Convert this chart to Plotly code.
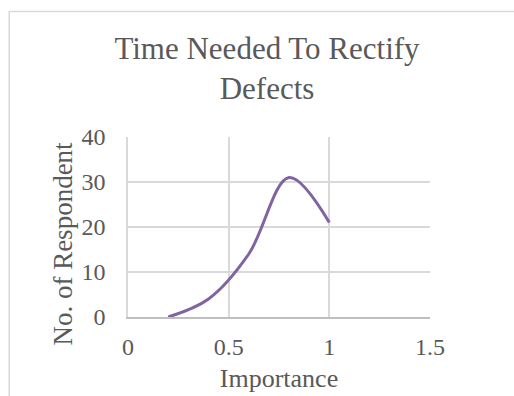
import plotly.graph_objects as go

importance = [0.2, 0.4, 0.6, 0.8, 1.0]
respondents = [0, 4, 14, 31, 21]
x_ticks = [0, 0.5, 1, 1.5]
x_tick_labels = ["0", "0.5", "1", "1.5"]
y_ticks = [0, 10, 20, 30, 40]

title_text = "Time Needed To Rectify<br>Defects"
x_title = "Importance"
y_title = "No. of Respondent"

W, H = 514, 396
L, R, T, B = 127.5, 430, 137, 317

def px(x):
    return (x - L) / (R - L)

def py(y):
    return (B - y) / (B - T)

fig = go.Figure()
fig.add_trace(go.Scatter(
    x=importance, y=respondents, mode="lines",
    line=dict(color="#8064A2", width=3, shape="spline", smoothing=1),
    hoverinfo="skip", showlegend=False,
))

font_family = "Liberation Serif, Times New Roman, serif"
txt_color = "#595959"

fig.update_layout(
    width=W, height=H,
    margin=dict(l=L, r=W - R, t=T, b=H - B, pad=0, autoexpand=False),
    paper_bgcolor="white", plot_bgcolor="white",
    font=dict(family=font_family, color=txt_color, size=24),
    title=dict(text=title_text, x=267 / W, xanchor="center",
               y=1 - 59 / H, yanchor="middle",
               font=dict(size=31, color=txt_color, family=font_family)),
    xaxis=dict(range=[0, 1.5], tickvals=x_ticks, ticktext=x_tick_labels,
               showgrid=True, gridcolor="#d9d9d9", gridwidth=1.5,
               zeroline=False, showline=True, linecolor="#bfbfbf", linewidth=1.5,
               mirror=False, ticks="", ticklabelstandoff=7, automargin=False,
               title=dict(text=x_title, font=dict(size=26), standoff=10),
               tickfont=dict(size=24), fixedrange=True),
    yaxis=dict(range=[0, 40], tickvals=y_ticks,
               showgrid=True, gridcolor="#d9d9d9", gridwidth=1.5,
               zeroline=False, showline=True, linecolor="#d9d9d9", linewidth=1.5,
               ticks="", ticklabelstandoff=16, automargin=False,
               tickfont=dict(size=24), fixedrange=True),
    annotations=[dict(text=y_title, textangle=-90, xref="paper", yref="paper",
                      x=px(62), y=py(244), xanchor="center", yanchor="middle",
                      showarrow=False, font=dict(size=27, color=txt_color, family=font_family))],
    shapes=[dict(type="path", xref="paper", yref="paper",
                 path=f"M {px(8.5)},{py(400)} L {px(8.5)},{py(11.5)} L {px(520)},{py(11.5)}",
                 line=dict(color="#d9d9d9", width=1.5), layer="below")],
)

fig.write_html("out.html")
